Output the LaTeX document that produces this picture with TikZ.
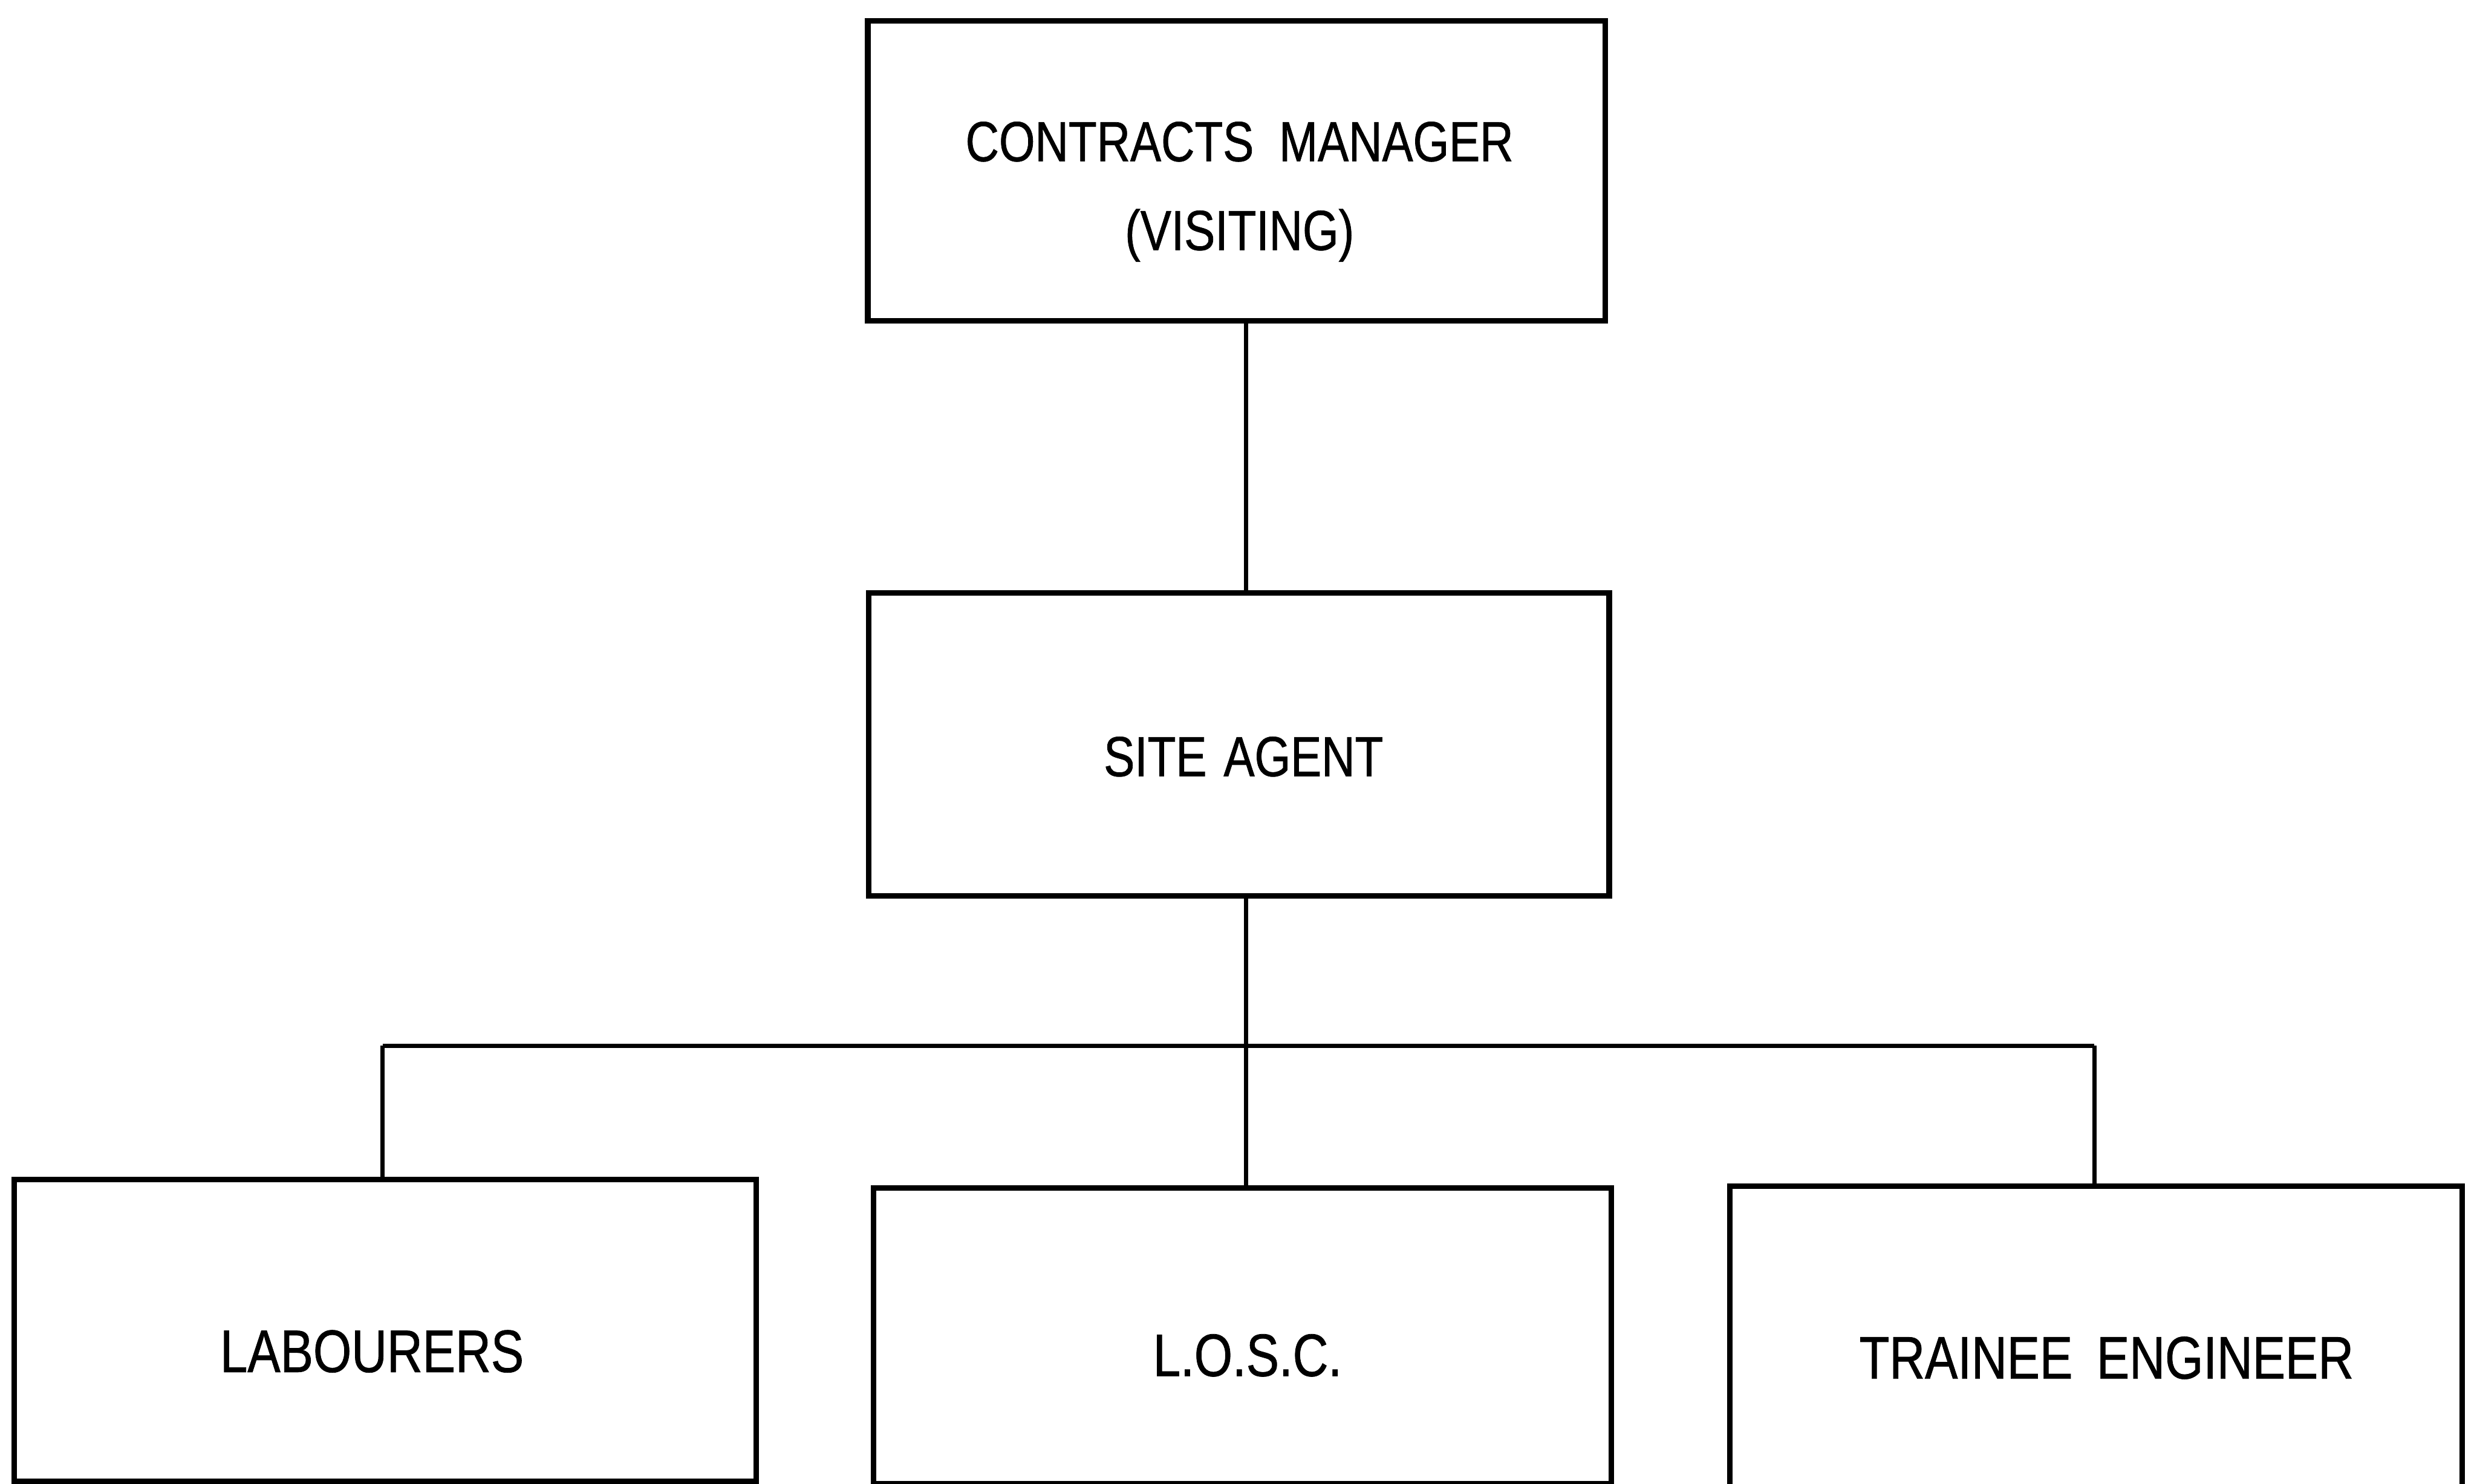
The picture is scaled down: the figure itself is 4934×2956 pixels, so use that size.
\documentclass[tikz,border=0pt]{standalone}
\usepackage{fontspec}
\setmainfont[FakeStretch=0.82,FakeBold=0.8]{Liberation Sans}
\begin{document}
\begin{tikzpicture}[x=0.01cm,y=-0.01cm,
  box/.style={draw,line width=0.11cm,rectangle,inner sep=0pt},
  lbl/.style={anchor=base,inner sep=0pt,font=\fontsize{32}{38}\selectfont},
  lblb/.style={anchor=base,inner sep=0pt,font=\fontsize{34}{40}\selectfont},
  conn/.style={line width=0.08cm}]
\useasboundingbox (0,0) rectangle (4934,2956);
% boxes
\node[box,minimum width=14.68cm,minimum height=5.97cm] (cm) at (2463,340) {};
\node[box,minimum width=14.74cm,minimum height=6.03cm] (sa) at (2468,1483) {};
\node[box,minimum width=14.77cm,minimum height=6.01cm] (lab) at (767,2650) {};
\node[box,minimum width=14.69cm,minimum height=5.88cm] (losc) at (2475,2661) {};
\node[box,minimum width=14.57cm,minimum height=6.20cm] (te) at (4175,2673) {};
% labels
\node[lbl] (cmt1) at (2469,321) {CONTRACTS\hspace{0.45em}MANAGER};
\node[lbl] (cmt2) at (2469,498) {(VISITING)};
\node[lbl] (sat) at (2477,1546) {SITE\hspace{0.3em}AGENT};
\node[lblb] (labt) at (741,2733) {LABOURERS};
\node[lblb] (losct) at (2485,2741) {L.O.S.C.};
\node[lblb] (tet) at (4196,2746) {TRAINEE\hspace{0.4em}ENGINEER};
% connectors
\coordinate (trunk) at (2482,2083);
\coordinate (busl) at (762,2083);
\coordinate (busr) at (4172,2083);
\draw[conn] (cm.south -| trunk) -- (sa.north -| trunk);
\draw[conn] (sa.south -| trunk) -- (trunk);
\draw[conn] (busl) -- (busr);
\draw[conn] (busl) -- (lab.north -| busl);
\draw[conn] (trunk) -- (losc.north -| trunk);
\draw[conn] (busr) -- (te.north -| busr);
\end{tikzpicture}
\end{document}
